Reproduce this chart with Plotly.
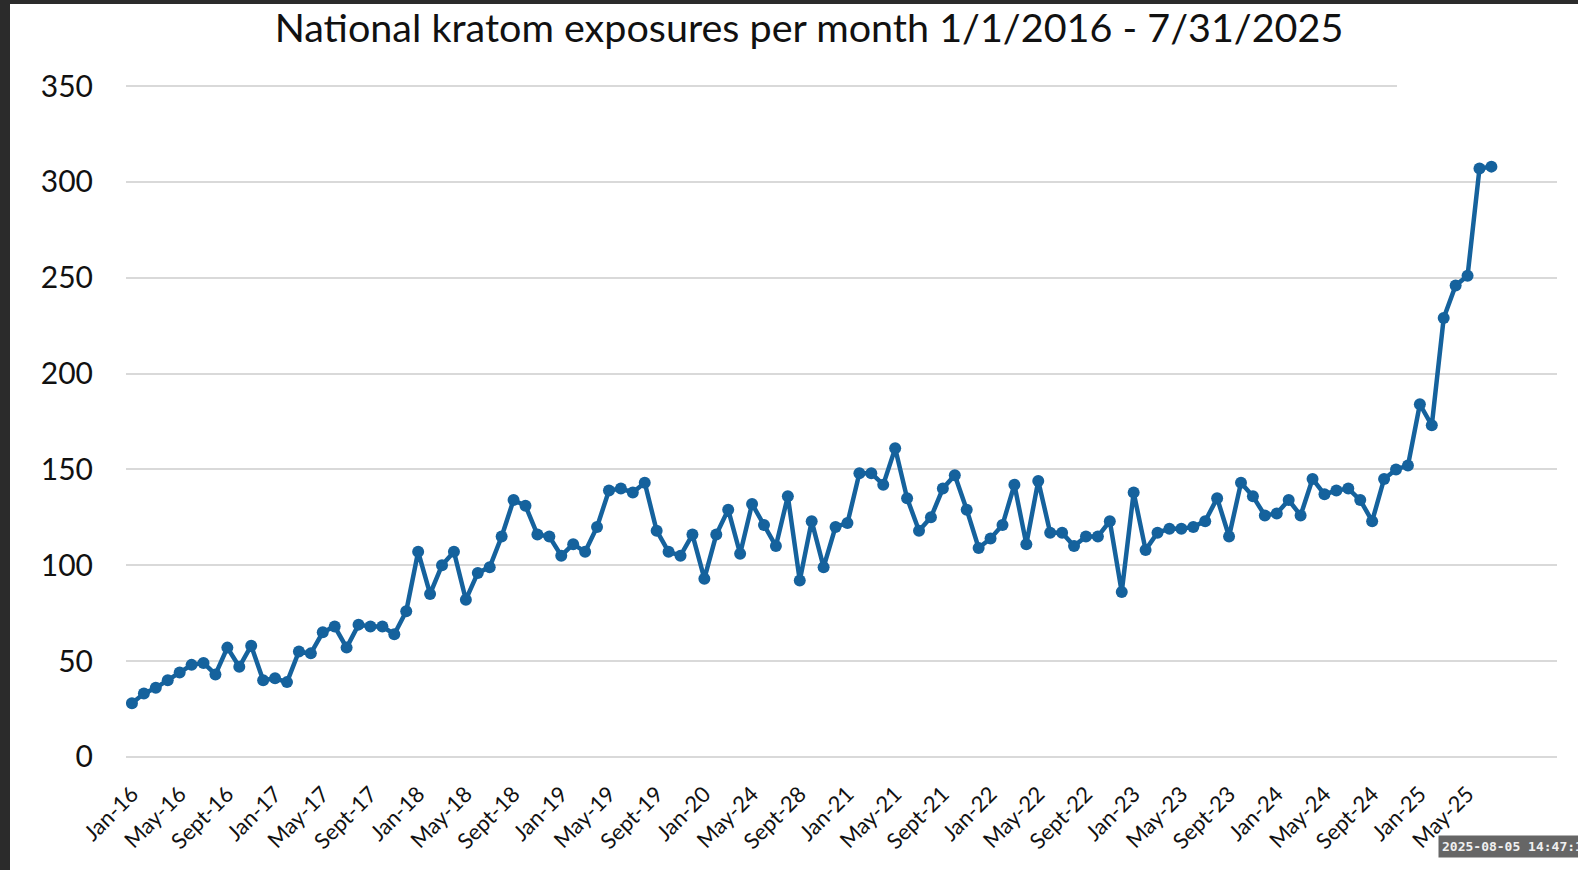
import plotly.graph_objects as go
import pandas as pd

# ---- data ----
months = list(pd.date_range("2016-01-01", periods=115, freq="MS").strftime("%b %Y"))
exposures = [28, 33, 36, 40, 44, 48, 49, 43, 57, 47,
             58, 40, 41, 39, 55, 54, 65, 68, 57, 69,
             68, 68, 64, 76, 107, 85, 100, 107, 82, 96,
             99, 115, 134, 131, 116, 115, 105, 111, 107, 120,
             139, 140, 138, 143, 118, 107, 105, 116, 93, 116,
             129, 106, 132, 121, 110, 136, 92, 123, 99, 120,
             122, 148, 148, 142, 161, 135, 118, 125, 140, 147,
             129, 109, 114, 121, 142, 111, 144, 117, 117, 110,
             115, 115, 123, 86, 138, 108, 117, 119, 119, 120,
             123, 135, 115, 143, 136, 126, 127, 134, 126, 145,
             137, 139, 140, 134, 123, 145, 150, 152, 184, 173,
             229, 246, 251, 307, 308]
tick_labels = ["Jan-16", "May-16", "Sept-16", "Jan-17", "May-17", "Sept-17",
               "Jan-18", "May-18", "Sept-18", "Jan-19", "May-19", "Sept-19",
               "Jan-20", "May-24", "Sept-28", "Jan-21", "May-21", "Sept-21",
               "Jan-22", "May-22", "Sept-22", "Jan-23", "May-23", "Sept-23",
               "Jan-24", "May-24", "Sept-24", "Jan-25", "May-25"]
tick_months = months[::4]
title_text = "National kratom exposures per month 1/1/2016 - 7/31/2025"
stamp_text = "2025-08-05 14:47:11"

W, H = 1578, 870
ML, MR, MT, MB = 126, 21, 85, 112
PW, PH = W - ML - MR, H - MT - MB

def px_x(p):
    return (p - ML) / PW

def px_y(p):
    return (H - MB - p) / PH

LINE = "#15629d"

fig = go.Figure()
fig.add_trace(go.Scatter(
    x=months, y=exposures, mode="lines+markers",
    line=dict(color=LINE, width=4.5),
    marker=dict(color=LINE, size=12),
    showlegend=False, hoverinfo="x+y"))

fig.update_layout(
    width=W, height=H,
    margin=dict(l=ML, r=MR, t=MT, b=MB, autoexpand=False),
    paper_bgcolor="white", plot_bgcolor="white",
    font=dict(family="Lato, 'Open Sans', sans-serif", color="#262626"),
    title=dict(text=title_text, x=809 / W, xanchor="center", xref="container",
               y=1 - 28 / H, yanchor="middle", yref="container",
               font=dict(size=39.5, color="#111111", family="Lato, 'Open Sans', sans-serif")),
    xaxis=dict(type="category", categoryorder="array", categoryarray=months,
               range=[-0.5, 119.5], tickmode="array", tickvals=tick_months,
               ticktext=tick_labels, tickangle=-45, showgrid=False,
               showline=False, zeroline=False, ticks="",
               tickfont=dict(size=22, color="#111111"), ticklabelstandoff=18,
               automargin=False),
    yaxis=dict(range=[-0.6, 350.6], tickmode="array",
               tickvals=[0, 50, 100, 150, 200, 250, 300, 350],
               showgrid=True, gridcolor="#d9d9d9",
               gridwidth=2, zeroline=False, showline=False, ticks="",
               tickfont=dict(size=30, color="#111111"), ticklabelstandoff=32,
               automargin=False),
)

# white slide panel at top right hiding the end of the top gridline
fig.add_shape(type="rect", xref="paper", yref="paper",
              x0=px_x(1397), x1=px_x(W), y0=px_y(95), y1=px_y(4),
              fillcolor="white", line=dict(width=0), layer="above")

# dark screenshot frame (left & top)
fig.add_shape(type="rect", xref="paper", yref="paper",
              x0=px_x(0), x1=px_x(10), y0=px_y(H), y1=px_y(0),
              fillcolor="#2b2b2b", line=dict(width=0), layer="above")
fig.add_shape(type="rect", xref="paper", yref="paper",
              x0=px_x(0), x1=px_x(W), y0=px_y(4), y1=px_y(0),
              fillcolor="#2b2b2b", line=dict(width=0), layer="above")

# timestamp overlay
fig.add_annotation(text="<b>" + stamp_text + "</b>", xref="paper", yref="paper",
                   x=px_x(1438), y=px_y(846), xanchor="left", yanchor="middle",
                   showarrow=False, bgcolor="#666666", borderpad=3,
                   font=dict(family="DejaVu Sans Mono", size=13, color="#f0f0f0"))

fig.write_html("out.html", config={"displayModeBar": False},
               post_script="document.body.style.margin='0';document.body.style.overflow='hidden';")
